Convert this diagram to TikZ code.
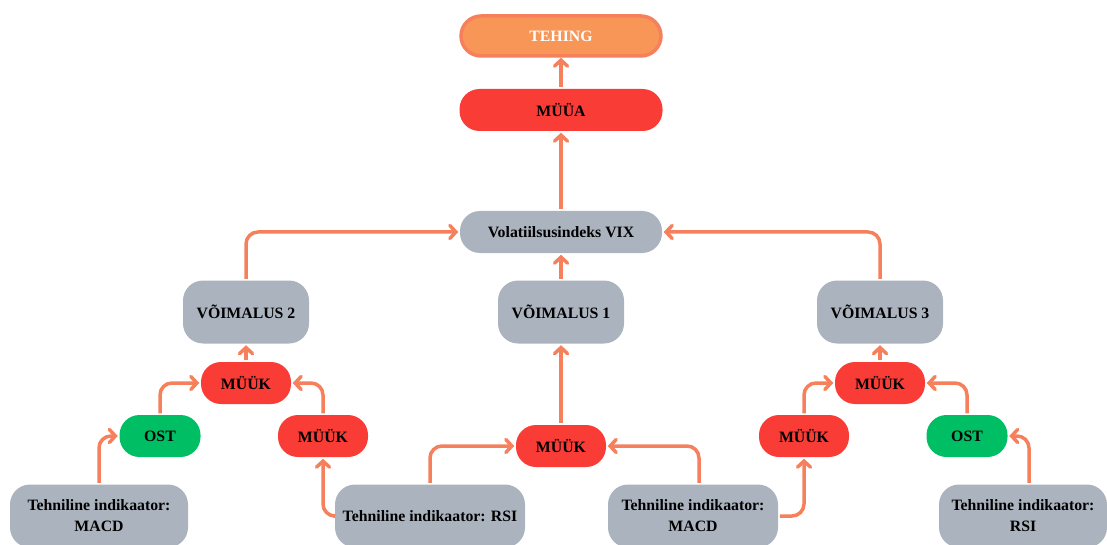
\documentclass[tikz,border=0pt]{standalone}
\usepackage{fontspec}
\setmainfont{Liberation Serif}
\usetikzlibrary{arrows.meta, positioning}

\definecolor{linkorange}{RGB}{246,128,92}
\definecolor{dealorange}{RGB}{248,150,88}
\definecolor{sellred}{RGB}{250,60,55}
\definecolor{buygreen}{RGB}{0,190,100}
\definecolor{boxgray}{RGB}{171,180,190}

\begin{document}
\begin{tikzpicture}[-{Straight Barb[length=6pt,width=13pt,line cap=round]}, node distance=80pt and 80pt, on grid,
    line width=3.5pt, draw=linkorange, rounded corners=12pt]
      \tikzstyle{every node}=[font=\fontsize{15.8}{21}\selectfont\bfseries, text=black, align=center, line width=3.5pt]
      \tikzstyle{box}=[fill=boxgray, rounded corners=20pt, minimum height=42pt, inner sep=2pt]
      \tikzstyle{sell}=[fill=sellred, rounded corners=20pt, minimum height=42pt, minimum width=90pt]
      \tikzstyle{buy}=[fill=buygreen, rounded corners=20pt, minimum height=42pt, minimum width=81pt]
      \useasboundingbox (0pt,0pt) rectangle (1107pt,-545pt);
      \node[fill=dealorange, draw=linkorange, rounded corners=20pt, minimum height=40pt, minimum width=200pt, text=white] (TEHING) at (561pt,-36pt) {TEHING};
      \node[sell, minimum width=203pt] (MUUA) [below = 74pt of TEHING] {MÜÜA};
      \node[box, minimum width=202pt] (VIX) [below = 122pt of MUUA] {Volatiilsusindeks VIX};
      \node[box, minimum width=126pt, minimum height=63pt] (V1) [below = 80pt of VIX] {VÕIMALUS 1};
      \node[box, minimum width=126pt, minimum height=63pt] (V2) [left = 315pt of V1] {VÕIMALUS 2};
      \node[box, minimum width=126pt, minimum height=63pt] (V3) [right = 319pt of V1] {VÕIMALUS 3};
      \node[sell] (MUUK2) [below = 71pt of V2] {MÜÜK};
      \node[sell] (MUUK3) [below = 71pt of V3] {MÜÜK};
      \node[sell] (MUUK1) [below = 134pt of V1] {MÜÜK};
      \node[buy] (OST2) [below left = 53pt and 86pt of MUUK2] {OST};
      \node[sell] (MUUKb2) [below right = 53pt and 77pt of MUUK2] {MÜÜK};
      \node[sell] (MUUKb3) [below left = 53pt and 76pt of MUUK3] {MÜÜK};
      \node[buy] (OST3) [below right = 53pt and 87pt of MUUK3] {OST};
      \node[box, minimum width=178pt, minimum height=63pt] (MACD2) [below left = 80pt and 61pt of OST2] {Tehniline indikaator:\\MACD};
      \node[box, minimum width=190pt, minimum height=63pt] (RSI1) [below right = 80pt and 107pt of MUUKb2] {Tehniline indikaator: RSI};
      \node[box, minimum width=170pt, minimum height=63pt] (MACD1) [below left = 80pt and 111pt of MUUKb3] {Tehniline indikaator:\\MACD};
      \node[box, minimum width=168pt, minimum height=63pt] (RSI3) [below right = 80pt and 56pt of OST3] {Tehniline indikaator:\\RSI};
      % upper part
      \draw (MUUA.north) -- (TEHING.south);
      \draw (VIX.north) -- (MUUA.south);
      \draw (V1.north) -- (VIX.south);
      \draw (V2.north) |- (VIX.west);
      \draw (V3.north) |- (VIX.east);
      \draw (MUUK2.north) -- (V2.south);
      \draw (MUUK3.north) -- (V3.south);
      \draw (MUUK1.north) -- (V1.south);
      % left branch
      \draw (OST2.north) |- (MUUK2.west);
      \draw (MUUKb2.north) |- (MUUK2.east);
      \draw (MACD2.north) |- (OST2.west);
      \draw (RSI1.west) -| (MUUKb2.south);
      % middle branch
      \draw (RSI1.north) |- (MUUK1.west);
      \draw ([xshift=6pt]MACD1.north) |- (MUUK1.east);
      % right branch
      \draw (MACD1.east) -| (MUUKb3.south);
      \draw (MUUKb3.north) |- (MUUK3.west);
      \draw (OST3.north) |- (MUUK3.east);
      \draw ([xshift=6pt]RSI3.north) |- (OST3.east);
    \end{tikzpicture}
\end{document}
